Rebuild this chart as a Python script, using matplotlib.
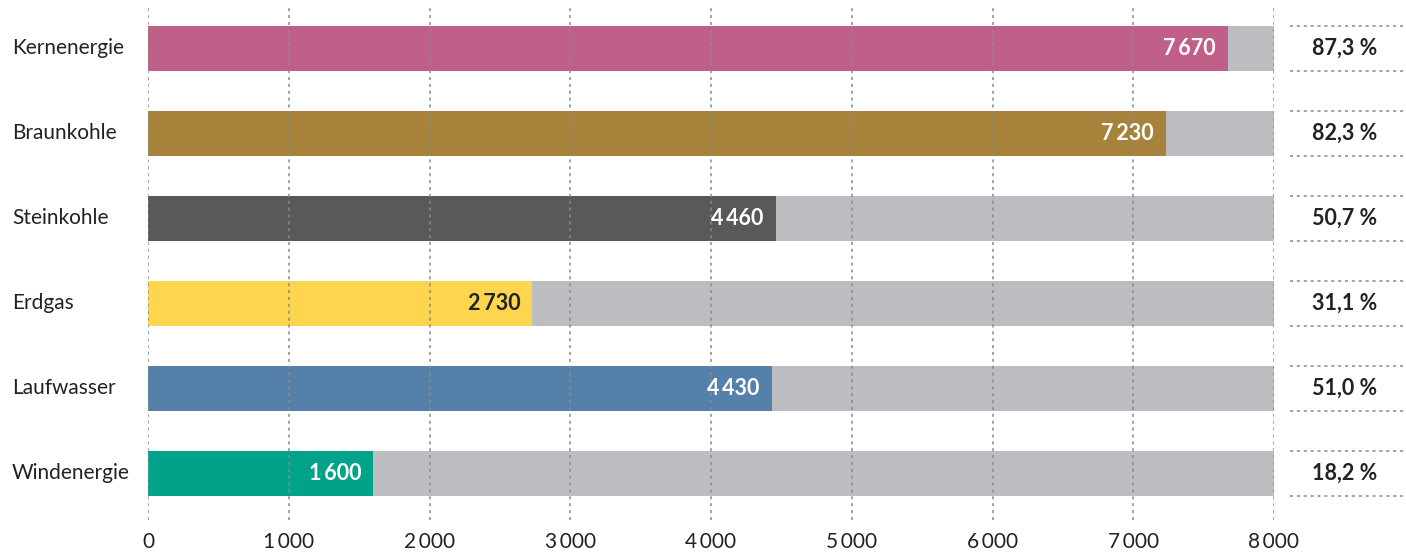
import matplotlib
matplotlib.use("Agg")
import matplotlib.pyplot as plt

plt.rcParams['font.family'] = ['Lato', 'DejaVu Sans']

categories = ["Kernenergie", "Braunkohle", "Steinkohle", "Erdgas", "Laufwasser", "Windenergie"]
hours = [7670, 7230, 4460, 2730, 4430, 1600]
shares = ["87,3 %", "82,3 %", "50,7 %", "31,1 %", "51,0 %", "18,2 %"]
full_scale = 8000
ticks = [0, 1000, 2000, 3000, 4000, 5000, 6000, 7000, 8000]

colors = ["#C06089", "#A6823A", "#58595B", "#FDD54F", "#5580AA", "#00A389"]
label_colors = ["white", "white", "white", "#222222", "white", "white"]
rest_color = "#BCBDC0"


def fmt(v):
    s = f"{v:,}".replace(",", "\u2009")
    return s


W, H = 1406, 552
fig = plt.figure(figsize=(W / 100, H / 100), dpi=100)
ax = fig.add_axes([148 / W, 1 - 520 / H, (1274 - 148) / W, (520 - 5) / H])

y = list(range(len(categories)))
bar_h = 45 / 85

ax.barh(y, [full_scale] * len(y), height=bar_h, color=rest_color, zorder=1)
ax.barh(y, hours, height=bar_h, color=colors, zorder=2)

ax.set_xlim(0, full_scale)
ax.set_ylim(5 + 46.5 / 85, -43.5 / 85)

ax.set_xticks(ticks)
ax.set_xticklabels([fmt(t) for t in ticks], fontsize=15, color="#222222")
ax.tick_params(axis="x", length=0, pad=9)
ax.set_yticks([])
for s in ax.spines.values():
    s.set_visible(False)

ax.grid(axis="x", color="#8a8a8a", linestyle=(0, (2, 2.5)), linewidth=1.1, zorder=3)
ax.set_axisbelow(False)

px = full_scale / (1274 - 148)
for i, (cat, v, sh) in enumerate(zip(categories, hours, shares)):
    ax.text(-136 * px, i, cat, ha="left", va="center", fontsize=15, color="#222222")
    ax.text(v - 12 * px, i, fmt(v), ha="right", va="center", fontsize=15.5,
            fontweight="bold", color=label_colors[i], zorder=4)
    ax.text(full_scale + 71 * px, i, sh, ha="center", va="center", fontsize=15.5,
            fontweight="bold", color="#222222", clip_on=False)
    for edge in (-bar_h / 2, bar_h / 2):
        ax.plot([full_scale + 16 * px, full_scale + 132 * px], [i + edge, i + edge],
                color="#8a8a8a", linestyle=(0, (2, 2.5)), linewidth=1.1, clip_on=False)

fig.savefig("out.png", dpi=100)
